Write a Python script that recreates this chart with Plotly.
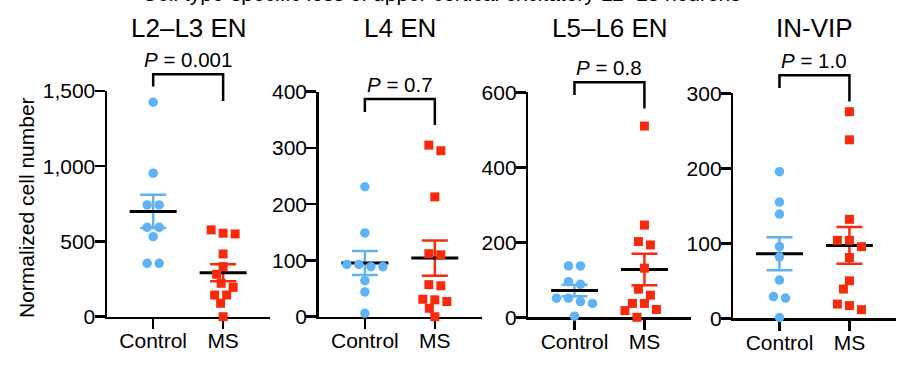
import numpy as np
import plotly.graph_objects as go

# ---------------- data ----------------
panel_titles = ["L2–L3 EN", "L4 EN", "L5–L6 EN", "IN-VIP"]
groups = ["Control", "MS"]
p_values = ["0.001", "0.7", "0.8", "1.0"]
y_max = [1500, 400, 600, 300]
y_dtick = [500, 100, 200, 100]

l23_control = [1426, 954, 743, 743, 594, 594, 532, 355, 355]
l23_ms = [577, 555, 550, 417, 333, 282, 222, 195, 144, 144, 89, 0]
l4_control = [231, 149, 93, 93, 89, 89, 64, 44, 6]
l4_ms = [305, 295, 213, 112, 110, 57, 55, 31, 30, 27, 15, 0]
l56_control = [137, 137, 95, 88, 51, 51, 42, 37, 3]
l56_ms = [510, 246, 202, 193, 131, 75, 59, 37, 37, 21, 18, 0]
vip_control = [195.5, 155, 139, 95.5, 82, 51, 29, 27, 1]
vip_ms = [275.5, 238, 132, 104, 104, 95.5, 81, 50, 39, 19, 17, 11.5]

control_sets = [l23_control, l4_control, l56_control, vip_control]
ms_sets = [l23_ms, l4_ms, l56_ms, vip_ms]

# bracket heights (data units): top, left leg end, right leg end
bracket_top = [1612, 387, 627, 324]
bracket_left = [1530, 364, 593, 307]
bracket_right = [1434, 341, 557, 289]

# ---------------- layout geometry (pixels) ----------------
W, H = 906, 378
panel_left = [107, 318.7, 528.3, 733.3]
panel_width = 163
panel_top = [91, 91.7, 92.3, 93.3]
panel_bottom = [316.7, 316.7, 317.3, 318.3]
x_range = [-0.66, 1.67]
px_per_cat = panel_width / (x_range[1] - x_range[0])

FONT = "Liberation Sans, Arial, Helvetica, sans-serif"
BLUE = "#5FB2F4"
RED = "#F92A0C"
LW = 2.5


def swarm(vals, ppu, S=12.0, D=10.0, row_tol=7.0):
    """Prism-like scatter arrangement: returns horizontal pixel offsets."""
    order = sorted(range(len(vals)), key=lambda i: -vals[i])
    rows = []
    for i in order:
        y = vals[i] * ppu
        if rows and abs(rows[-1][0][1] - y) <= row_tol:
            rows[-1].append((i, y))
        else:
            rows.append([(i, y)])
    placed = []
    offs = [0.0] * len(vals)
    for row in rows:
        n = len(row)
        base = [(j - (n - 1) / 2) * S for j in range(n)]
        best = 0.0
        found = False
        for step in range(0, 200):
            for sgn in (-1, 1):
                c = sgn * step * 0.5
                ok = all((c + b - px) ** 2 + (y - py) ** 2 >= D * D
                         for b, (i, y) in zip(base, row) for (px, py) in placed)
                if ok:
                    best = c
                    found = True
                    break
            if found:
                break
        for b, (i, y) in zip(base, row):
            offs[i] = best + b
            placed.append((best + b, y))
    return offs


fig = go.Figure()
layout = dict(
    width=W, height=H,
    margin=dict(l=0, r=0, t=0, b=0, pad=0, autoexpand=False),
    paper_bgcolor="white", plot_bgcolor="white",
    showlegend=False,
    font=dict(family=FONT, size=21, color="black"),
)
shapes = []
annotations = []

for k in range(4):
    ax = "" if k == 0 else str(k + 1)
    xname, yname = "x" + ax, "y" + ax
    x0 = panel_left[k] / W
    x1 = (panel_left[k] + panel_width) / W
    y0 = (H - panel_bottom[k]) / H
    y1 = (H - panel_top[k]) / H
    plot_h = panel_bottom[k] - panel_top[k]
    ppu = plot_h / y_max[k]

    for g, (vals, color, symbol) in enumerate([
        (control_sets[k], BLUE, "circle"),
        (ms_sets[k], RED, "square"),
    ]):
        arr = np.array(vals, dtype=float)
        mean = arr.mean()
        sem = arr.std(ddof=1) / np.sqrt(len(arr))
        # mean line + SEM bar
        fig.add_trace(go.Scatter(
            x=[g], y=[mean], xaxis=xname, yaxis=yname, mode="markers",
            marker=dict(size=1, color="rgba(0,0,0,0)"),
            error_y=dict(type="data", array=[sem], color=color, thickness=2.5, width=13),
            error_x=dict(type="data", array=[23.5 / px_per_cat], color="black",
                         thickness=3, width=0),
            hoverinfo="skip",
        ))
        offs = swarm(vals, ppu)
        xs = [g + o / px_per_cat for o in offs]
        fig.add_trace(go.Scatter(
            x=xs, y=vals, xaxis=xname, yaxis=yname, mode="markers",
            marker=dict(symbol=symbol, size=9.5 if symbol == "circle" else 9,
                        color=color, line=dict(width=0)),
            cliponaxis=False,
        ))

    layout["xaxis" + ax] = dict(
        domain=[x0, x1], range=x_range, anchor=yname,
        tickvals=[0, 1], ticktext=groups, ticks="outside", ticklen=10,
        tickwidth=LW, tickcolor="black", showline=True, linewidth=LW,
        linecolor="black", showgrid=False, zeroline=False, layer="below traces",
        tickfont=dict(size=21), fixedrange=True, ticklabelstandoff=-6,
    )
    layout["yaxis" + ax] = dict(
        domain=[y0, y1], range=[0, y_max[k]], anchor=xname,
        tick0=0, dtick=y_dtick[k], tickformat=",d", ticks="outside", ticklen=10,
        tickwidth=LW, tickcolor="black", showline=True, linewidth=LW,
        linecolor="black", showgrid=False, zeroline=False, layer="below traces",
        tickfont=dict(size=21), fixedrange=True, ticklabelstandoff=-5,
    )

    # significance bracket
    def xd(c):
        return (c - x_range[0]) / (x_range[1] - x_range[0])
    xr, yr = xname + " domain", yname + " domain"
    top = bracket_top[k] / y_max[k]
    path = "M {a},{b} L {a},{t} L {c},{t} L {c},{d}".format(
        a=xd(0), b=bracket_left[k] / y_max[k], t=top,
        c=xd(1), d=bracket_right[k] / y_max[k])
    shapes.append(dict(type="path", path=path, xref=xr, yref=yr,
                       line=dict(color="black", width=LW)))
    annotations.append(dict(
        text="<i>P</i> = " + p_values[k], xref=xr, yref=yr,
        x=xd(0.5), y=top, xanchor="center", yanchor="bottom", yshift=1,
        showarrow=False, font=dict(size=20.5)))
    # panel title
    annotations.append(dict(
        text=panel_titles[k], xref=xr, yref="paper", x=0.5, y=(H - 28) / H,
        xanchor="center", yanchor="middle", showarrow=False,
        font=dict(size=26)))

# y-axis label
annotations.append(dict(
    text="Normalized cell number", xref="paper", yref="paper",
    x=26 / W, y=(H - 208) / H, xanchor="center", yanchor="middle",
    textangle=-90, showarrow=False, font=dict(size=21)))

# figure title, cut off at the top edge in the reference
annotations.append(dict(
    text="Cell type-specific loss of upper cortical excitatory L2–L3 neurons",
    xref="paper", yref="paper", x=140 / W, y=(H - 7) / H,
    xanchor="left", yanchor="bottom", showarrow=False, font=dict(size=21)))

layout["shapes"] = shapes
layout["annotations"] = annotations
fig.update_layout(**layout)
fig.write_html("out.html", config={"displayModeBar": False, "staticPlot": True},
               post_script="document.body.style.margin='0px';")
